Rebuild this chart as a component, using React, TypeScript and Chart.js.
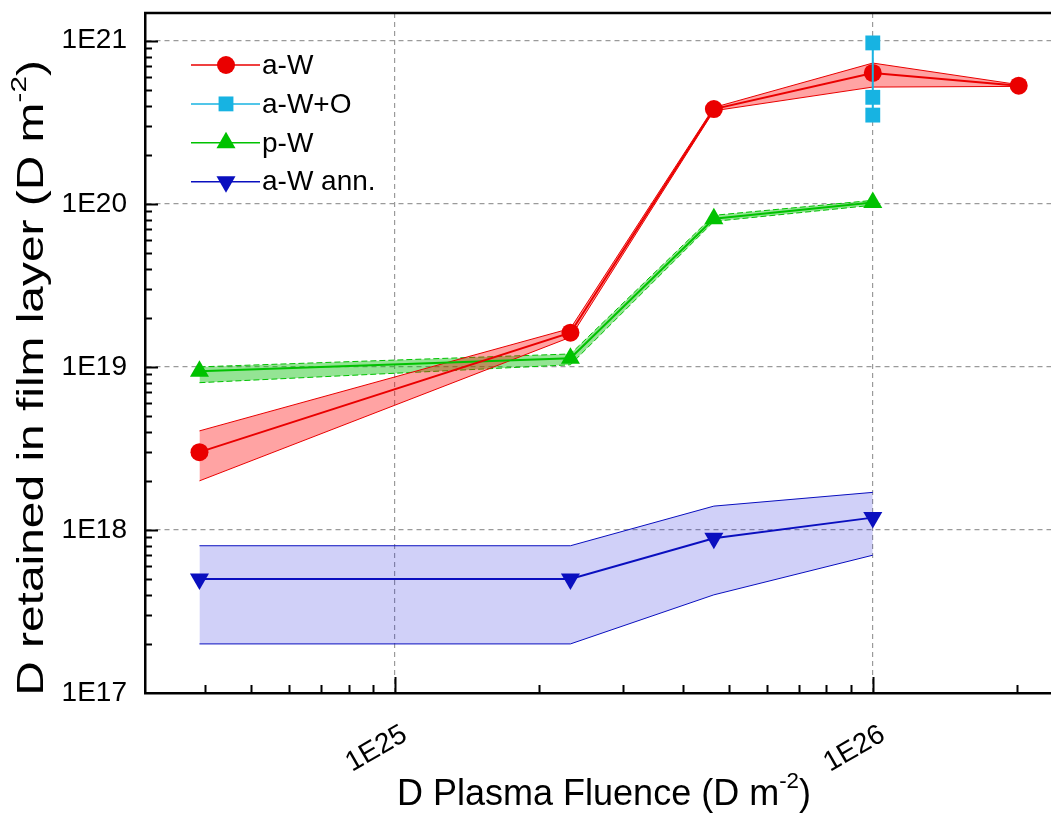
import React, { useEffect, useRef } from 'react';
import { Chart, registerables } from 'chart.js';
import { drawPoint } from 'chart.js/helpers';

Chart.register(...registerables);

const FONT = '"Liberation Sans", Arial, Helvetica, sans-serif';

// ---- data ----
const fluence = [3.9e24, 2.33e25, 4.65e25, 1.0e26, 2.02e26];
const fluenceAWO = [1.0e26, 1.0e26, 1.0e26];

const seriesNames = ['a-W', 'a-W+O', 'p-W', 'a-W ann.'];
const seriesColors = ['#ea0000', '#17b3e2', '#00c200', '#0a0fbf'];
const bandFills = ['rgba(255,0,0,0.36)', 'rgba(0,190,0,0.42)', 'rgba(20,20,220,0.2)'];

const aW = [3.0e18, 1.62e19, 3.81e20, 6.35e20, 5.3e20];
const aWHigh = [4.05e18, 1.72e19, 3.9e20, 7.3e20, 5.38e20];
const aWLow = [2.0e18, 1.52e19, 3.72e20, 5.2e20, 5.25e20];

const aWO = [9.7e20, 4.5e20, 3.5e20];

const pW = [9.4e18, 1.13e19, 8.1e19, 1.02e20];
const pWHigh = [1.0e19, 1.2e19, 8.5e19, 1.05e20];
const pWLow = [8.0e18, 1.03e19, 7.8e19, 9.8e19];

const aWAnn = [5.0e17, 5.0e17, 8.9e17, 1.19e18];
const aWAnnHigh = [8.0e17, 8.0e17, 1.4e18, 1.7e18];
const aWAnnLow = [2.0e17, 2.0e17, 4.0e17, 7.0e17];

const xRange = [3e24, 2.36e26];
const yRange = [1e17, 1.48e21];
const xTickLabels = ['1E25', '1E26'];
const yTickLabels = ['1E17', '1E18', '1E19', '1E20', '1E21'];

const xTitleParts = [{ t: 'D Plasma Fluence (D m' }, { t: '-2', sup: true }, { t: ')' }];
const yTitleParts = [{ t: 'D retained in film layer (D m' }, { t: '-2', sup: true }, { t: ')' }];

// ---- helpers ----
const pts = (xs: number[], ys: number[]) => xs.map((x, i) => ({ x, y: ys[i] }));
const isDecade = (v: number) => Math.abs(Math.log10(v) - Math.round(Math.log10(v))) < 1e-9;
const decadeLabel = (v: number) => '1E' + Math.round(Math.log10(v));

function logTicks(min: number, max: number) {
  const out: { value: number }[] = [];
  const e0 = Math.floor(Math.log10(min));
  const e1 = Math.ceil(Math.log10(max));
  for (let e = e0; e <= e1; e++) {
    for (let m = 1; m <= 9; m++) {
      const v = parseFloat((m * Math.pow(10, e)).toPrecision(6));
      if (v >= min * 0.9999 && v <= max * 1.0001) out.push({ value: v });
    }
  }
  return out;
}

function drawRich(ctx: CanvasRenderingContext2D, parts: { t: string; sup?: boolean }[], size: number, cx: number, cy: number, rot: number, stretch: number) {
  ctx.save();
  ctx.translate(cx, cy);
  ctx.rotate(rot);
  ctx.scale(stretch, 1);
  ctx.fillStyle = '#000';
  ctx.textBaseline = 'middle';
  ctx.textAlign = 'left';
  const supSize = size * 0.62;
  const widths = parts.map((p) => {
    ctx.font = `${p.sup ? supSize : size}px ${FONT}`;
    return ctx.measureText(p.t).width;
  });
  const total = widths.reduce((a, b) => a + b, 0);
  let x = -total / 2;
  parts.forEach((p, i) => {
    ctx.font = `${p.sup ? supSize : size}px ${FONT}`;
    ctx.fillText(p.t, x, p.sup ? -size * 0.36 : 0);
    x += widths[i];
  });
  ctx.restore();
}

const innerTicksPlugin = {
  id: 'innerTicks',
  afterDraw(chart: any) {
    const { ctx, chartArea: a, scales } = chart;
    const xs = scales.x;
    const ys = scales.y;
    ctx.save();
    ctx.strokeStyle = '#000';
    ctx.lineWidth = 2;
    ctx.beginPath();
    xs.ticks.forEach((t: any) => {
      const px = Math.round(xs.getPixelForValue(t.value)) + 0.5;
      if (px < a.left + 2 || px > a.right - 1) return;
      const len = isDecade(t.value) ? 16 : 8;
      ctx.moveTo(px, a.bottom);
      ctx.lineTo(px, a.bottom - len);
    });
    ys.ticks.forEach((t: any) => {
      const py = Math.round(ys.getPixelForValue(t.value)) + 0.5;
      if (py > a.bottom - 2 || py < a.top + 1) return;
      const len = isDecade(t.value) ? 13 : 7;
      ctx.moveTo(a.left, py);
      ctx.lineTo(a.left + len, py);
    });
    ctx.stroke();
    // top frame line
    ctx.lineWidth = 2.5;
    ctx.beginPath();
    ctx.moveTo(a.left - 1, a.top);
    ctx.lineTo(a.right, a.top);
    ctx.stroke();
    ctx.restore();
  },
};

const titlesPlugin = {
  id: 'titles',
  afterDraw(chart: any) {
    const { ctx } = chart;
    drawRich(ctx, xTitleParts, 36, 604, 795, 0, 1);
    drawRich(ctx, yTitleParts, 36, 33, 378, -Math.PI / 2, 1.33);
  },
};

const legendPlugin = {
  id: 'customLegend',
  afterDraw(chart: any) {
    const { ctx } = chart;
    const mains = chart.data.datasets.filter((d: any) => d.isMain);
    ctx.save();
    mains.forEach((d: any, i: number) => {
      const y = 65 + i * 38.9;
      ctx.strokeStyle = d.borderColor;
      ctx.lineWidth = 1.5;
      ctx.beginPath();
      ctx.moveTo(191, y);
      ctx.lineTo(260, y);
      ctx.stroke();
      ctx.fillStyle = d.backgroundColor;
      ctx.strokeStyle = d.backgroundColor;
      drawPoint(ctx, { pointStyle: d.pointStyle, radius: d.pointRadius, rotation: d.pointRotation || 0, borderWidth: 0 } as any, 226, y);
      ctx.fillStyle = '#000';
      ctx.font = `28px ${FONT}`;
      ctx.textBaseline = 'middle';
      ctx.textAlign = 'left';
      ctx.fillText(d.label, 262, y + 1);
    });
    ctx.restore();
  },
};

const bgPlugin = {
  id: 'bg',
  beforeDraw(chart: any) {
    const { ctx, width, height } = chart;
    ctx.save();
    ctx.fillStyle = '#fff';
    ctx.fillRect(0, 0, width, height);
    ctx.restore();
  },
};

function band(name: string, xs: number[], hi: number[], lo: number[], color: string, fill: string, dash: number[]) {
  return [
    { label: name + ' upper', data: pts(xs, hi), borderColor: color, borderWidth: 1, borderDash: dash, pointRadius: 0, showLine: true, fill: false, order: 10 },
    { label: name + ' lower', data: pts(xs, lo), borderColor: color, borderWidth: 1, borderDash: dash, pointRadius: 0, showLine: true, fill: '-1', backgroundColor: fill, order: 10 },
  ];
}

function main(idx: number, xs: number[], ys: number[], style: string, radius: number, order: number, rotation = 0) {
  return {
    label: seriesNames[idx],
    isMain: true,
    data: pts(xs, ys),
    borderColor: seriesColors[idx],
    backgroundColor: seriesColors[idx],
    borderWidth: 2,
    pointStyle: style,
    pointRadius: radius,
    pointRotation: rotation,
    pointBorderWidth: 0,
    showLine: true,
    fill: false,
    order,
  };
}

export default function App() {
  const ref = useRef<HTMLCanvasElement>(null);
  useEffect(() => {
    const datasets: any[] = [
      ...band('a-W', fluence, aWHigh, aWLow, seriesColors[0], bandFills[0], []),
      ...band('p-W', fluence.slice(0, 4), pWHigh, pWLow, seriesColors[2], bandFills[1], [6, 3]),
      ...band('a-W ann.', fluence.slice(0, 4), aWAnnHigh, aWAnnLow, seriesColors[3], bandFills[2], []),
      main(0, fluence, aW, 'circle', 9, 2),
      main(1, fluenceAWO, aWO, 'rect', 10.5, 1),
      main(2, fluence.slice(0, 4), pW, 'triangle', 11, 3),
      main(3, fluence.slice(0, 4), aWAnn, 'triangle', 11, 4, 180),
    ];
    const tickFont = { family: FONT, size: 28 };
    const chart = new Chart(ref.current as HTMLCanvasElement, {
      type: 'scatter',
      data: { datasets },
      options: {
        animation: false,
        responsive: false,
        devicePixelRatio: 1,
        layout: { autoPadding: false, padding: { top: 13, left: 0, right: 0, bottom: 0 } },
        plugins: { legend: { display: false }, tooltip: { enabled: false } },
        elements: { line: { tension: 0 } },
        scales: {
          x: {
            type: 'logarithmic',
            min: xRange[0],
            max: xRange[1],
            afterBuildTicks: (s: any) => { s.ticks = logTicks(xRange[0], xRange[1]); },
            afterFit: (s: any) => { s.height = 121; s.paddingLeft = 0; s.paddingRight = 0; s.paddingTop = 0; s.paddingBottom = 0; },
            ticks: {
              autoSkip: false,
              minRotation: 30,
              maxRotation: 30,
              padding: 25,
              labelOffset: 10,
              color: '#000',
              font: tickFont,
              callback: (v: any) => (isDecade(Number(v)) && xTickLabels.includes(decadeLabel(Number(v))) ? decadeLabel(Number(v)) : ''),
            },
            grid: {
              drawTicks: false,
              lineWidth: 1.2,
              color: (c: any) => (c.tick && isDecade(c.tick.value) ? '#9a9a9a' : 'rgba(0,0,0,0)'),
            },
            border: { display: true, color: '#000', width: 2.5, dash: [5, 4] },
          },
          y: {
            type: 'logarithmic',
            min: yRange[0],
            max: yRange[1],
            afterBuildTicks: (s: any) => { s.ticks = logTicks(yRange[0], yRange[1]); },
            afterFit: (s: any) => { s.width = 145; s.paddingLeft = 0; s.paddingRight = 0; s.paddingTop = 0; s.paddingBottom = 0; },
            ticks: {
              autoSkip: false,
              padding: 18,
              color: '#000',
              font: tickFont,
              callback: (v: any) => (isDecade(Number(v)) && yTickLabels.includes(decadeLabel(Number(v))) ? decadeLabel(Number(v)) : ''),
            },
            grid: {
              drawTicks: false,
              lineWidth: 1.2,
              color: (c: any) => (c.tick && isDecade(c.tick.value) ? '#9a9a9a' : 'rgba(0,0,0,0)'),
            },
            border: { display: true, color: '#000', width: 2.5, dash: [5, 4] },
          },
        },
      } as any,
      plugins: [bgPlugin, innerTicksPlugin, titlesPlugin, legendPlugin],
    });
    return () => chart.destroy();
  }, []);
  return (
    <div style={{ position: 'fixed', left: 0, top: 0, width: 1051, height: 814, background: '#fff' }}>
      <canvas ref={ref} width={1051} height={814} style={{ display: 'block' }} />
    </div>
  );
}
